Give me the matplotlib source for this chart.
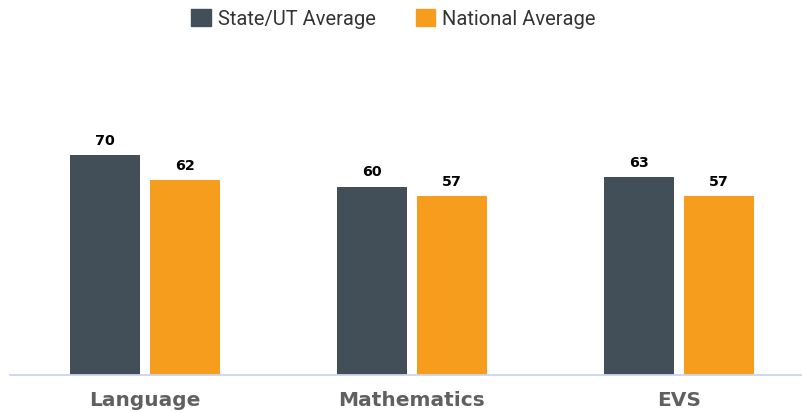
import matplotlib
matplotlib.use("Agg")
import matplotlib.pyplot as plt
from matplotlib.patches import Patch
from matplotlib.font_manager import FontProperties
import numpy as np

categories = ["Language", "Mathematics", "EVS"]
state_avg = [70, 60, 63]
national_avg = [62, 57, 57]
series_names = ["State/UT Average", "National Average"]

dark = "#434f58"
orange = "#f79d1e"

plt.rcParams["font.family"] = "DejaVu Sans"

fig = plt.figure(figsize=(8.03, 4.14), dpi=100)
ax = fig.add_axes([10 / 803, 38 / 414, 793 / 803, 314 / 414])

x = np.arange(len(categories))
w = 0.262
off = 0.15
b1 = ax.bar(x - off, state_avg, w, color=dark)
b2 = ax.bar(x + off, national_avg, w, color=orange)

for bars, vals in [(b1, state_avg), (b2, national_avg)]:
    for rect, v in zip(bars, vals):
        ax.annotate(str(v), (rect.get_x() + rect.get_width() / 2, v),
                    xytext=(0, 6), textcoords="offset points",
                    ha="center", va="bottom", fontsize=10.3,
                    fontweight="bold", color="black")

ax.set_xlim(-135 / 267, 658 / 267)
ax.set_ylim(0, 100)
ax.set_xticks(x)
ax.set_xticklabels(categories, fontsize=14.5, fontweight="bold", color="#606060")
ax.tick_params(axis="x", length=0, pad=11)
ax.set_yticks([])
for s in ["top", "right", "left"]:
    ax.spines[s].set_visible(False)
ax.spines["bottom"].set_color("#ccd6eb")
ax.spines["bottom"].set_linewidth(1.3)

leg_font = FontProperties(family="Roboto", size=14.5, stretch="normal", weight="normal")
handles = [Patch(color=dark), Patch(color=orange)]
fig.legend(handles, series_names, loc="upper center", bbox_to_anchor=(0.49, 1.02),
           ncol=2, frameon=False, prop=leg_font,
           handlelength=0.95, handleheight=0.95, handletextpad=0.35,
           columnspacing=2.0, labelcolor="#333333")

fig.savefig("out.png", dpi=100)
